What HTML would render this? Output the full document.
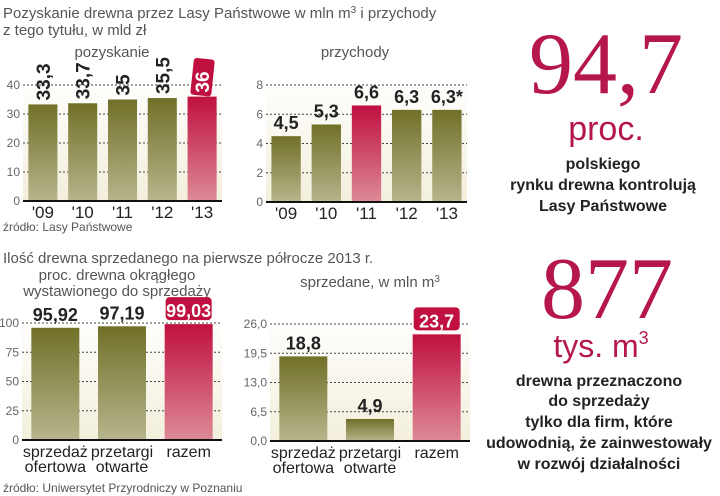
<!DOCTYPE html>
<html><head><meta charset="utf-8">
<style>
body{margin:0;background:#fff;}
svg{display:block;font-family:"Liberation Sans",sans-serif;}
.t{fill:#555;}
.b{font-weight:bold;fill:#222;}
</style></head>
<body>
<svg id="s" width="720" height="496" viewBox="0 0 720 496">
<defs>
<linearGradient id="ol" x1="0" y1="0" x2="0" y2="1"><stop offset="0" stop-color="#707028"/><stop offset="1" stop-color="#b7b58c"/></linearGradient>
<linearGradient id="rd" x1="0" y1="0" x2="0" y2="1"><stop offset="0" stop-color="#c0103f"/><stop offset="1" stop-color="#dc8a97"/></linearGradient>
<linearGradient id="bg" x1="0" y1="0" x2="0" y2="1"><stop offset="0" stop-color="#fff"/><stop offset="1" stop-color="#f3efdc"/></linearGradient>
</defs>
<text class="t" x="3" y="18" font-size="15">Pozyskanie drewna przez Lasy Państwowe w mln m<tspan dy="-5" font-size="10">3</tspan><tspan dy="5"> i przychody</tspan></text>
<text class="t" x="3" y="35" font-size="15">z tego tytułu, w mld zł</text>
<text class="t" x="112" y="57" font-size="15" text-anchor="middle">pozyskanie</text>
<text class="t" x="355" y="57" font-size="15" text-anchor="middle">przychody</text>
<text class="t" x="3" y="231" font-size="12">źródło: Lasy Państwowe</text>
<text class="t" x="3" y="263" font-size="15">Ilość drewna sprzedanego na pierwsze półrocze 2013 r.</text>
<text class="t" x="117" y="280" font-size="15" text-anchor="middle">proc. drewna okrągłego</text>
<text class="t" x="117" y="296" font-size="15" text-anchor="middle">wystawionego do sprzedaży</text>
<text class="t" x="370" y="287" font-size="15" text-anchor="middle">sprzedane, w mln m<tspan dy="-5" font-size="10">3</tspan></text>
<text class="t" x="3" y="492" font-size="12">źródło: Uniwersytet Przyrodniczy w Poznaniu</text>

<text x="606" y="93" font-size="88" fill="#b5174a" text-anchor="middle" font-family="Liberation Serif, serif">94,7</text>
<text x="606" y="140" font-size="34" fill="#b5174a" text-anchor="middle">proc.</text>
<text class="b" x="603" y="169" font-size="16" text-anchor="middle">polskiego</text>
<text class="b" x="603" y="190" font-size="16" text-anchor="middle">rynku drewna kontrolują</text>
<text class="b" x="603" y="211" font-size="16" text-anchor="middle">Lasy Państwowe</text>
<text x="607" y="318" font-size="88" fill="#b5174a" text-anchor="middle" font-family="Liberation Serif, serif">877</text>
<text x="601" y="357" font-size="32" fill="#b5174a" text-anchor="middle">tys. m<tspan dy="-13" font-size="18">3</tspan></text>
<text class="b" x="599" y="386" font-size="16" text-anchor="middle">drewna przeznaczono</text>
<text class="b" x="599" y="406" font-size="16" text-anchor="middle">do sprzedaży</text>
<text class="b" x="599" y="427" font-size="16" text-anchor="middle">tylko dla firm, które</text>
<text class="b" x="599" y="448" font-size="16" text-anchor="middle">udowodnią, że zainwestowały</text>
<text class="b" x="599" y="469" font-size="16" text-anchor="middle">w rozwój działalności</text>
</svg>
<script>
const c1Cats=["'09","'10","'11","'12","'13"];
const c1Vals=[33.3,33.7,35,35.5,36];
const c1Labels=["33,3","33,7","35","35,5","36"];
const c1Ticks=[0,10,20,30,40];
const c2Cats=["'09","'10","'11","'12","'13"];
const c2Vals=[4.5,5.3,6.6,6.3,6.3];
const c2Labels=["4,5","5,3","6,6","6,3","6,3*"];
const c2Ticks=[0,2,4,6,8];
const c3Cats=[["sprzedaż","ofertowa"],["przetargi","otwarte"],["razem"]];
const c3Vals=[95.92,97.19,99.03];
const c3Labels=["95,92","97,19","99,03"];
const c3Ticks=[0,25,50,75,100];
const c4Cats=[["sprzedaż","ofertowa"],["przetargi","otwarte"],["razem"]];
const c4Vals=[18.8,4.9,23.7];
const c4Labels=["18,8","4,9","23,7"];
const c4Ticks=[0,6.5,13,19.5,26];
const c4TickLabels=["0,0","6,5","13,0","19,5","26,0"];
const S=document.getElementById('s');
const NS="http://www.w3.org/2000/svg";
function mk(t,a,txt){const e=document.createElementNS(NS,t);for(const k in a)e.setAttribute(k,a[k]);if(txt!=null)e.textContent=txt;S.appendChild(e);return e;}
function chart(o){
  const y=v=>o.y0-(v-o.vmin)/(o.vmax-o.vmin)*(o.y0-o.yTop);
  const bg=mk('rect',{x:o.x0,y:o.yTop-10,width:o.x1-o.x0,height:o.y0-o.yTop+10,fill:'url(#bg)'});
  
  
  o.ticks.forEach((t,i)=>{
    const tl=mk('text',{x:o.x0-3,y:y(t)+4,'font-size':12,'text-anchor':'end',fill:'#666'},o.tickLabels?o.tickLabels[i]:String(t));
    
    
    if(i>0){const g=mk('line',{x1:o.x0,x2:o.x1,y1:y(t),y2:y(t),stroke:'#444','stroke-dasharray':'2,2','stroke-width':1});
      
      }
  });
  const n=o.vals.length, step=(o.x1-o.x0)/n;
  o.vals.forEach((v,i)=>{
    const cx=o.x0+step*(i+0.5), w=step*o.bw;
    const red=i===o.hi;
    const r=mk('rect',{x:cx-w/2,y:y(v),width:w,height:o.y0-y(v),fill:red?'url(#rd)':'url(#ol)'});
    
    
    let lab;
    if(o.rot){
      if(red){
        const bx=mk('rect',{x:cx-10,y:y(v)-38,width:21,height:37,rx:3,fill:'#c0103f',transform:`rotate(6 ${cx} ${y(v)-20})`});
        
        
      }
      lab=mk('text',{x:0,y:0,'font-size':19,'font-weight':'bold',fill:red?'#fff':'#222',transform:`translate(${cx+7} ${y(v)-4}) rotate(-90)`},o.labels[i]);
    } else {
      if(red&&o.badge){
        const bx=mk('rect',{x:cx-w/2+1,y:y(v)-27,width:w-2,height:23,rx:4,fill:'#c0103f'});
        
        
      }
      lab=mk('text',{x:cx,y:y(v)-7,'font-size':18,'font-weight':'bold','text-anchor':'middle',fill:(red&&o.badge)?'#fff':'#222'},o.labels[i]);
    }
    
    
    const c=o.cats[i], lines=Array.isArray(c)?c:[c];
    lines.forEach((ln,j)=>{
      const t=mk('text',{x:cx,y:o.y0+17+j*15,'font-size':o.catSize,'text-anchor':'middle',fill:'#222'},ln);
      
      
    });
  });
  const ax=mk('line',{x1:o.x0,x2:o.x1,y1:o.y0,y2:o.y0,stroke:'#111','stroke-width':2});
  
  
}
chart({id:'chart1',cats:c1Cats,vals:c1Vals,labels:c1Labels,ticks:c1Ticks,vmin:0,vmax:40,x0:23,x1:222,y0:201,yTop:85,bw:0.73,hi:4,rot:true,catSize:17});
chart({id:'chart2',cats:c2Cats,vals:c2Vals,labels:c2Labels,ticks:c2Ticks,vmin:0,vmax:8,x0:266,x1:467,y0:202,yTop:85,bw:0.73,hi:2,catSize:17});
chart({id:'chart3',cats:c3Cats,vals:c3Vals,labels:c3Labels,ticks:c3Ticks,vmin:0,vmax:100,x0:22,x1:222,y0:440,yTop:323,bw:0.72,hi:2,badge:true,catSize:16});
chart({id:'chart4',cats:c4Cats,vals:c4Vals,labels:c4Labels,ticks:c4Ticks,tickLabels:c4TickLabels,vmin:0,vmax:26,x0:270,x1:470,y0:441,yTop:324,bw:0.72,hi:2,badge:true,catSize:16});
</script>
</body></html>
